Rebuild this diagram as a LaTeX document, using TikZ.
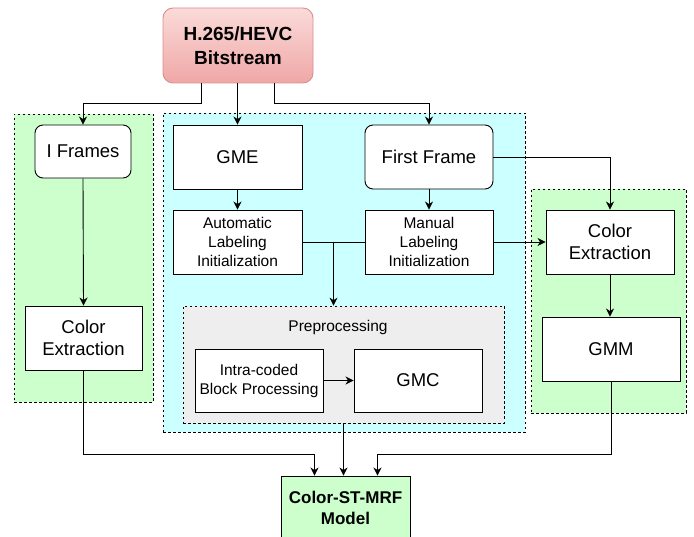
\documentclass[tikz,border=0pt]{standalone}
\usepackage{fontspec}
\setmainfont{Liberation Sans}
\usetikzlibrary{arrows.meta,calc}
\definecolor{grpgreen}{HTML}{CCFFCC}
\definecolor{grpblue}{HTML}{CCFFFF}
\definecolor{grpgray}{HTML}{EEEEEE}
\definecolor{bitstop}{HTML}{FADBD9}
\definecolor{bitsbot}{HTML}{EFA7A6}
\definecolor{bitsline}{HTML}{D98E8B}
\begin{document}
\begin{tikzpicture}[x=1pt,y=-1pt,
        group/.style={draw,line width=0.7pt,dash pattern=on 2.5pt off 2.5pt,inner sep=0pt},
        block/.style={draw,fill=white,line width=0.9pt,inner sep=1pt,align=center,
           minimum width=128pt,minimum height=64pt,font=\fontsize{18.5}{22}\selectfont},
        small block/.style={block,font=\fontsize{15.5}{19}\selectfont},
        frame block/.style={block,rounded corners=8pt},
        arr/.style={-{Stealth[length=8pt,width=8pt,inset=2.5pt]},line width=0.9pt},
        plain line/.style={line width=0.9pt},
    ]
    \useasboundingbox (0,0) rectangle (694,537);
    % dashed groups
    \node[group,fill=grpgreen,minimum width=139pt,minimum height=288pt] (leftgrp) at (83.5,258) {};
    \node[group,fill=grpblue,minimum width=362pt,minimum height=319pt] (midgrp) at (344,272.5) {};
    \node[group,fill=grpgreen,minimum width=155pt,minimum height=224pt] (rightgrp) at (608.5,301) {};
    \node[group,fill=grpgray,minimum width=321pt,minimum height=117pt] (prep) at (343.5,364.5) {};
    \node[font=\fontsize{15.5}{19}\selectfont] (prelabel) at (338,327) {Preprocessing};

    \node[block,rounded corners=10pt,top color=bitstop,bottom color=bitsbot,draw=bitsline,
        minimum width=150pt,minimum height=75pt,font=\bfseries\fontsize{19}{24}\selectfont]
        (bits) at (238,45.5) {H.265/HEVC\\Bitstream};
    \node[frame block,minimum width=96pt,minimum height=53pt] (iframes) at (83,151.5) {I Frames};
    \node[block,minimum width=117pt] (cextl) at (83.5,338) {Color\\Extraction};
    \node[block,minimum width=129pt] (gme) at (237.5,157) {GME};
    \node[small block,minimum width=129pt] (autol) at (237.5,242) {Automatic\\Labeling\\Initialization};
    \node[frame block] (first) at (429,157) {First Frame};
    \node[small block] (manual) at (429,242) {Manual\\Labeling\\Initialization};
    \node[block] (cextr) at (610,242) {Color\\Extraction};
    \node[block,minimum width=138pt] (gmm) at (611,349) {GMM};
    \node[small block,minimum height=63pt] (intra) at (259,380.5) {Intra-coded\\Block Processing};
    \node[block,minimum height=63pt] (gmc) at (418,380.5) {GMC};
    \node[block,fill=grpgreen,minimum width=129pt,font=\bfseries\fontsize{17}{21}\selectfont]
        (model) at (345.5,508) {Color-ST-MRF\\Model};

    \coordinate (split) at ($(autol.east)!0.5!(manual.west)$);

    \draw[arr] ([xshift=-37pt]bits.south) -- ++(0,20) -| (iframes.north);
    \draw[arr] (bits.south -| gme.north) -- (gme.north);
    \draw[arr] ([xshift=36pt]bits.south) -- ++(0,20) -| (first.north);
    \draw[arr] (iframes.south) -- (cextl.north);
    \draw[arr] (gme.south) -- (autol.north);
    \draw[arr] (first.south) -- (manual.north);
    \draw[plain line] (autol.east) -- (manual.west);
    \draw[arr] (split) -- (split |- prep.north);
    \draw[arr] (manual.east) -- (cextr.west);
    \draw[arr] (first.east) -| (cextr.north);
    \draw[arr] (cextr.south) -- (cextr.south |- gmm.north);
    \draw[arr] (intra.east) -- (gmc.west);
    \draw[arr] (cextl.south) |- ([xshift=-31pt,yshift=21pt]model.north) -- ([xshift=-31pt]model.north);
    \draw[arr] (prep.south) -- (prep.south |- model.north);
    \draw[arr] (gmm.south) |- ([xshift=32pt,yshift=21pt]model.north) -- ([xshift=32pt]model.north);
\end{tikzpicture}
\end{document}
